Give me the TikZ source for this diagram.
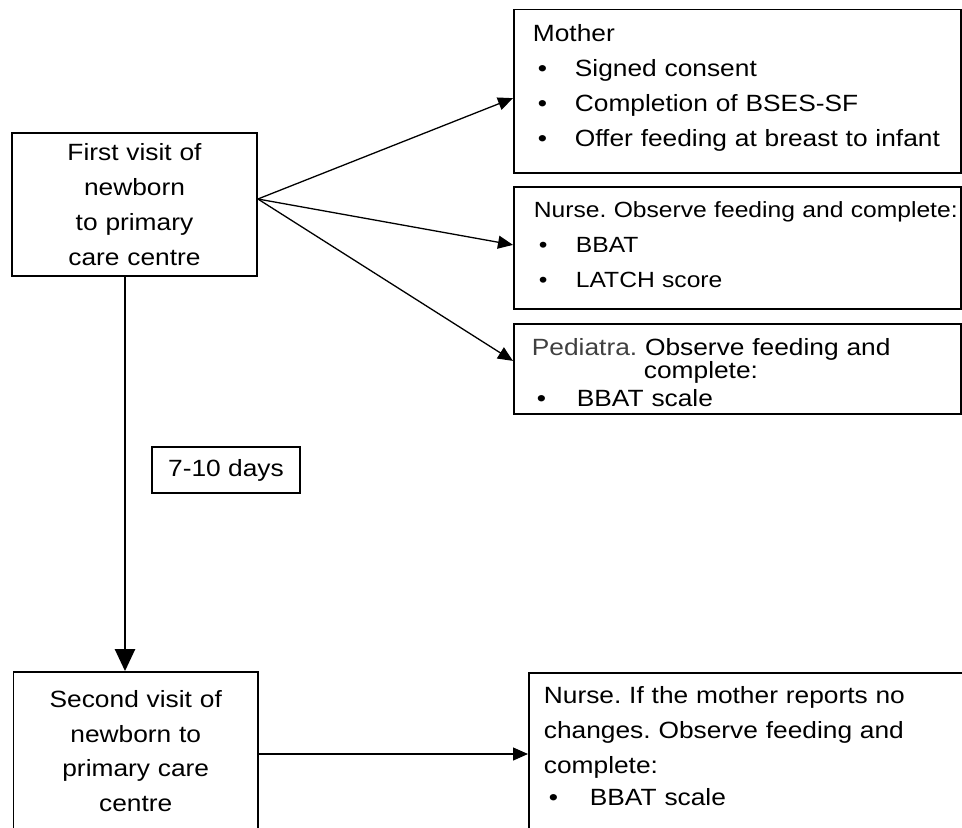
\documentclass[tikz,border=0pt]{standalone}
\usepackage{fontspec}
\setmainfont{Liberation Sans}[FakeStretch=1.12]
\usetikzlibrary{arrows.meta, positioning, calc}

\newcommand{\blt}[1][42]{\makebox[#1pt][l]{\hspace{5pt}\textbullet}}
\frenchspacing

\begin{document}
\begin{tikzpicture}[x=1pt, y=-1pt,
  box/.style={rectangle, draw, line width=1.8pt, inner sep=0pt,
              font=\fontsize{23.5}{34.8}\selectfont},
  visit/.style={box, align=center, text width=230pt},
  listbox/.style={box, align=left, anchor=north west, minimum width=447pt},
  arrow/.style={-{Triangle[length=15pt, width=13pt]}, line width=1.3pt},
  bigarrow/.style={-{Triangle[length=22pt, width=20pt]}, line width=2.4pt}
]
  \useasboundingbox (0,0) rectangle (962,828);

  \node[visit, minimum width=245pt, minimum height=143pt] (first) at (134.5,204.5)
    {First visit of\\ newborn\\ to primary\\ care centre};
  \node[listbox, text width=409pt, inner xsep=19pt, text height=32.5pt, text depth=131pt]
    (mother) at (513,8.5)
    {Mother\\ \blt Signed consent\\ \blt Completion of BSES-SF\\
     \blt\mbox{Offer feeding at breast to infant}};
  \node[listbox, font=\fontsize{22}{35}\selectfont, text width=407pt, inner xsep=20pt,
        text height=31pt, text depth=91pt]
    (nurse) at (513,186)
    {\mbox{Nurse. Observe feeding and complete:}\\ \blt BBAT\\ \blt LATCH score};
  \node[listbox, text width=411pt, inner xsep=18pt, text height=32pt, text depth=58pt]
    (pediatra) at (513,323)
    {\textcolor{black!75}{Pediatra.} Observe feeding and\\[-12pt]
     \hspace*{112pt}complete:\\[-7pt] \blt[45]BBAT scale};

  \coordinate (fork) at ([yshift=5.5pt]first.east);
  \draw[arrow] (fork) -- ([yshift=-7pt]mother.west);
  \draw[arrow] (fork) -- ([yshift=3pt]nurse.west);
  \draw[arrow] (fork) -- ([yshift=8pt]pediatra.west);

  \node[box, line width=1.5pt, minimum width=148pt, minimum height=46pt]
    (interval) at (226,470) {7-10 days};

  \node[visit, minimum width=244.5pt, minimum height=158pt] (second) at (135.75,751)
    {Second visit of\\ newborn to\\ primary care\\ centre};
  \node[listbox, text width=417pt, inner xsep=15pt, text height=31pt, text depth=127pt]
    (followup) at (528,672)
    {Nurse. If the mother reports no\\ changes. Observe feeding and\\ complete:\\[-3pt]
     \blt[46]BBAT scale};

  \draw[bigarrow] ([xshift=-9.5pt]first.south) -- ([xshift=-9.5pt]first.south |- second.north);
  \draw[arrow] ([yshift=-3pt]second.east) -- ([yshift=-3pt]second.east -| followup.west);
\end{tikzpicture}
\end{document}
